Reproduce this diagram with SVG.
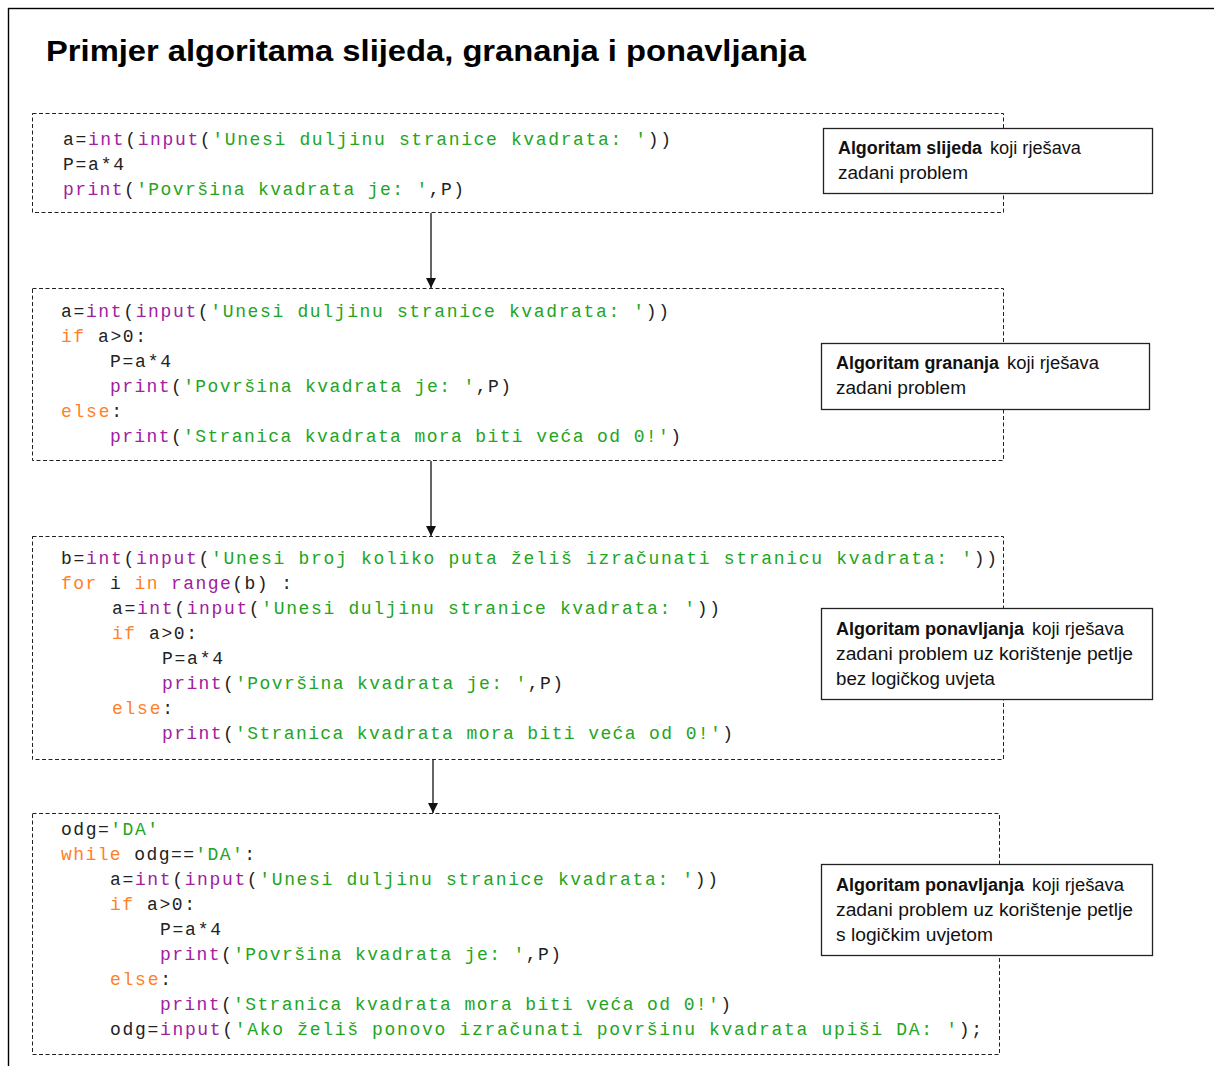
<svg xmlns="http://www.w3.org/2000/svg" width="1214" height="1066" viewBox="0 0 1214 1066" xml:space="preserve">
<defs>
<style>
.frame{fill:none;stroke:#000;stroke-width:1.4}
.dash{fill:none;stroke:#222;stroke-width:1;stroke-dasharray:4 2.5}
.lab{fill:#fff;stroke:#222;stroke-width:1.3}
.code{font-family:"Liberation Mono","Courier New",monospace;font-size:18px;fill:#222}
.k{fill:#ff7f2a}
.b{fill:#a020a0}
.s{fill:#22a522}
.lt{font-family:"Liberation Sans",Arial,sans-serif;font-size:17.5px;fill:#111}
.bd{font-weight:bold}
.title{font-family:"Liberation Sans",Arial,sans-serif;font-size:30px;font-weight:bold;fill:#000}
.conn{stroke:#111;stroke-width:1.3;fill:none}
</style>
<marker id="ah" markerUnits="userSpaceOnUse" markerWidth="12" markerHeight="12" viewBox="0 0 12 12" refX="10" refY="6" orient="auto">
<path d="M0,1 L10,6 L0,11 Z" fill="#111"/>
</marker>
</defs>
<rect width="1214" height="1066" fill="#fff"/>
<rect class="frame" x="8.5" y="8.5" width="1300" height="1200"/>
<text class="title" x="46" y="61" textLength="760" lengthAdjust="spacingAndGlyphs">Primjer algoritama slijeda, grananja i ponavljanja</text>

<g id="connectors">
<line class="conn" x1="431" y1="213" x2="431" y2="288" marker-end="url(#ah)"/>
<line class="conn" x1="431" y1="461" x2="431" y2="536" marker-end="url(#ah)"/>
<line class="conn" x1="433" y1="760" x2="433" y2="813" marker-end="url(#ah)"/>
</g>

<g id="code1">
<rect class="dash" x="32.5" y="113.5" width="971" height="99"/>
<text class="code" x="63" y="145" textLength="608" lengthAdjust="spacing">a=<tspan class="b">int</tspan>(<tspan class="b">input</tspan>(<tspan class="s">'Unesi duljinu stranice kvadrata: '</tspan>))</text>
<text class="code" x="63" y="170" textLength="61" lengthAdjust="spacing">P=a*4</text>
<text class="code" x="63" y="195" textLength="401" lengthAdjust="spacing"><tspan class="b">print</tspan>(<tspan class="s">'Površina kvadrata je: '</tspan>,P)</text>
</g>

<g id="code2">
<rect class="dash" x="32.5" y="288.5" width="971" height="172"/>
<text class="code" x="61" y="317" textLength="608" lengthAdjust="spacing">a=<tspan class="b">int</tspan>(<tspan class="b">input</tspan>(<tspan class="s">'Unesi duljinu stranice kvadrata: '</tspan>))</text>
<text class="code" x="61" y="342" textLength="85" lengthAdjust="spacing"><tspan class="k">if</tspan> a&gt;0:</text>
<text class="code" x="110" y="367" textLength="61" lengthAdjust="spacing">P=a*4</text>
<text class="code" x="110" y="392" textLength="401" lengthAdjust="spacing"><tspan class="b">print</tspan>(<tspan class="s">'Površina kvadrata je: '</tspan>,P)</text>
<text class="code" x="61" y="417" textLength="61" lengthAdjust="spacing"><tspan class="k">else</tspan>:</text>
<text class="code" x="110" y="442" textLength="571" lengthAdjust="spacing"><tspan class="b">print</tspan>(<tspan class="s">'Stranica kvadrata mora biti veća od 0!'</tspan>)</text>
</g>

<g id="code3">
<rect class="dash" x="32.5" y="536.5" width="971" height="223"/>
<text class="code" x="61" y="564" textLength="936" lengthAdjust="spacing">b=<tspan class="b">int</tspan>(<tspan class="b">input</tspan>(<tspan class="s">'Unesi broj koliko puta želiš izračunati stranicu kvadrata: '</tspan>))</text>
<text class="code" x="61" y="589" textLength="231" lengthAdjust="spacing"><tspan class="k">for</tspan> i <tspan class="k">in</tspan> <tspan class="b">range</tspan>(b) :</text>
<text class="code" x="112" y="614" textLength="608" lengthAdjust="spacing">a=<tspan class="b">int</tspan>(<tspan class="b">input</tspan>(<tspan class="s">'Unesi duljinu stranice kvadrata: '</tspan>))</text>
<text class="code" x="112" y="639" textLength="85" lengthAdjust="spacing"><tspan class="k">if</tspan> a&gt;0:</text>
<text class="code" x="162" y="664" textLength="61" lengthAdjust="spacing">P=a*4</text>
<text class="code" x="162" y="689" textLength="401" lengthAdjust="spacing"><tspan class="b">print</tspan>(<tspan class="s">'Površina kvadrata je: '</tspan>,P)</text>
<text class="code" x="112" y="714" textLength="61" lengthAdjust="spacing"><tspan class="k">else</tspan>:</text>
<text class="code" x="162" y="739" textLength="571" lengthAdjust="spacing"><tspan class="b">print</tspan>(<tspan class="s">'Stranica kvadrata mora biti veća od 0!'</tspan>)</text>
</g>

<g id="code4">
<rect class="dash" x="32.5" y="813.5" width="967" height="241"/>
<text class="code" x="61" y="835" textLength="97" lengthAdjust="spacing">odg=<tspan class="s">'DA'</tspan></text>
<text class="code" x="61" y="860" textLength="194" lengthAdjust="spacing"><tspan class="k">while</tspan> odg==<tspan class="s">'DA'</tspan>:</text>
<text class="code" x="110" y="885" textLength="608" lengthAdjust="spacing">a=<tspan class="b">int</tspan>(<tspan class="b">input</tspan>(<tspan class="s">'Unesi duljinu stranice kvadrata: '</tspan>))</text>
<text class="code" x="110" y="910" textLength="85" lengthAdjust="spacing"><tspan class="k">if</tspan> a&gt;0:</text>
<text class="code" x="160" y="935" textLength="61" lengthAdjust="spacing">P=a*4</text>
<text class="code" x="160" y="960" textLength="401" lengthAdjust="spacing"><tspan class="b">print</tspan>(<tspan class="s">'Površina kvadrata je: '</tspan>,P)</text>
<text class="code" x="110" y="985" textLength="61" lengthAdjust="spacing"><tspan class="k">else</tspan>:</text>
<text class="code" x="160" y="1010" textLength="571" lengthAdjust="spacing"><tspan class="b">print</tspan>(<tspan class="s">'Stranica kvadrata mora biti veća od 0!'</tspan>)</text>
<text class="code" x="110" y="1035" textLength="872" lengthAdjust="spacing">odg=<tspan class="b">input</tspan>(<tspan class="s">'Ako želiš ponovo izračunati površinu kvadrata upiši DA: '</tspan>);</text>
</g>

<g id="label1">
<rect class="lab" x="823.5" y="128.5" width="329" height="65"/>
<text class="lt bd" x="838" y="154" textLength="144" lengthAdjust="spacingAndGlyphs">Algoritam slijeda</text>
<text class="lt" x="990" y="154" textLength="91" lengthAdjust="spacingAndGlyphs">koji rješava</text>
<text class="lt" x="838" y="179" textLength="130" lengthAdjust="spacingAndGlyphs">zadani problem</text>
</g>

<g id="label2">
<rect class="lab" x="821.5" y="343.5" width="328" height="66"/>
<text class="lt bd" x="836" y="369" textLength="163" lengthAdjust="spacingAndGlyphs">Algoritam grananja</text>
<text class="lt" x="1007" y="369" textLength="92" lengthAdjust="spacingAndGlyphs">koji rješava</text>
<text class="lt" x="836" y="394" textLength="130" lengthAdjust="spacingAndGlyphs">zadani problem</text>
</g>

<g id="label3">
<rect class="lab" x="821.5" y="608.5" width="331" height="91"/>
<text class="lt bd" x="836" y="635" textLength="188" lengthAdjust="spacingAndGlyphs">Algoritam ponavljanja</text>
<text class="lt" x="1032" y="635" textLength="92" lengthAdjust="spacingAndGlyphs">koji rješava</text>
<text class="lt" x="836" y="660" textLength="297" lengthAdjust="spacingAndGlyphs">zadani problem uz korištenje petlje</text>
<text class="lt" x="836" y="685" textLength="159" lengthAdjust="spacingAndGlyphs">bez logičkog uvjeta</text>
</g>

<g id="label4">
<rect class="lab" x="821.5" y="864.5" width="331" height="91"/>
<text class="lt bd" x="836" y="891" textLength="188" lengthAdjust="spacingAndGlyphs">Algoritam ponavljanja</text>
<text class="lt" x="1032" y="891" textLength="92" lengthAdjust="spacingAndGlyphs">koji rješava</text>
<text class="lt" x="836" y="916" textLength="297" lengthAdjust="spacingAndGlyphs">zadani problem uz korištenje petlje</text>
<text class="lt" x="836" y="941" textLength="157" lengthAdjust="spacingAndGlyphs">s logičkim uvjetom</text>
</g>
</svg>
